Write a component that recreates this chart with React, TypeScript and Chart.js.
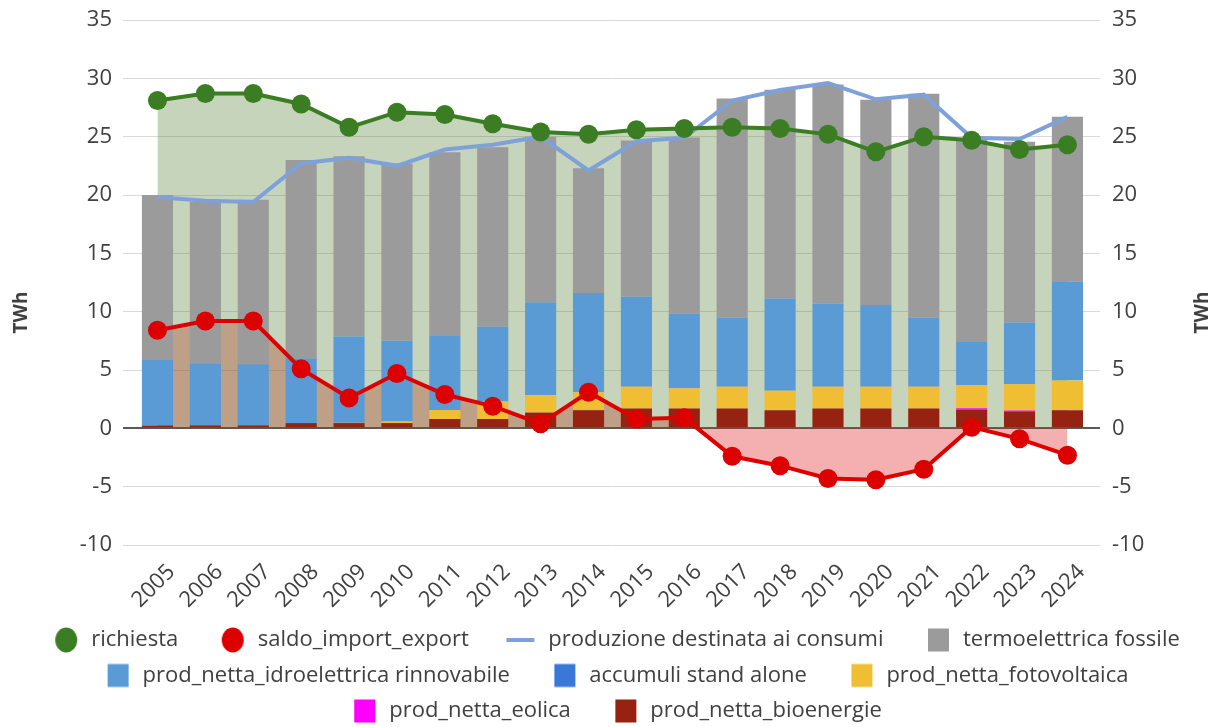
import React, { useEffect, useRef } from "react";
import { Chart, registerables } from "chart.js";

Chart.register(...registerables);

// ---- data (TWh) ----
const years = [2005, 2006, 2007, 2008, 2009, 2010, 2011, 2012, 2013, 2014, 2015, 2016, 2017, 2018, 2019, 2020, 2021, 2022, 2023, 2024];
const richiesta = [28.1, 28.7, 28.7, 27.8, 25.8, 27.1, 26.9, 26.1, 25.4, 25.2, 25.6, 25.7, 25.8, 25.7, 25.2, 23.7, 25.0, 24.7, 23.9, 24.3];
const saldoImportExport = [8.4, 9.2, 9.2, 5.1, 2.6, 4.7, 2.9, 1.9, 0.4, 3.1, 0.8, 0.9, -2.4, -3.2, -4.3, -4.4, -3.5, 0.1, -0.9, -2.3];
const produzioneConsumi = [19.8, 19.5, 19.4, 22.7, 23.2, 22.5, 23.9, 24.3, 25.0, 22.1, 24.6, 24.9, 28.1, 29.0, 29.6, 28.2, 28.6, 24.9, 24.8, 26.7];
const termoelettricaFossile = [14.15, 13.85, 14.1, 17.0, 15.45, 15.2, 15.7, 15.4, 14.2, 10.7, 13.4, 15.1, 18.8, 17.9, 18.8, 17.6, 19.2, 17.4, 15.5, 14.1];
const idroelettricaRinnovabile = [5.6, 5.3, 5.25, 5.55, 7.4, 6.9, 6.4, 6.4, 7.95, 8.5, 7.7, 6.4, 5.9, 7.9, 7.1, 7.0, 5.9, 3.7, 5.3, 8.5];
const accumuliStandAlone = [0, 0, 0, 0, 0, 0, 0, 0, 0, 0, 0, 0, 0, 0, 0, 0, 0, 0, 0, 0];
const fotovoltaica = [0, 0, 0, 0, 0.02, 0.15, 0.77, 1.5, 1.5, 1.55, 1.87, 1.73, 1.87, 1.68, 1.87, 1.87, 1.87, 1.98, 2.25, 2.53];
const eolica = [0, 0, 0, 0, 0, 0, 0, 0, 0, 0, 0, 0, 0, 0, 0, 0, 0, 0.12, 0.12, 0.02];
const bioenergie = [0.25, 0.25, 0.25, 0.45, 0.45, 0.45, 0.8, 0.8, 1.35, 1.55, 1.7, 1.7, 1.7, 1.55, 1.7, 1.7, 1.7, 1.6, 1.4, 1.55];

const yMin = -10;
const yMax = 35;
const yStep = 5;

const legendOrder = [
  "richiesta",
  "saldo_import_export",
  "produzione destinata ai consumi",
  "termoelettrica fossile",
  "prod_netta_idroelettrica rinnovabile",
  "accumuli stand alone",
  "prod_netta_fotovoltaica",
  "prod_netta_eolica",
  "prod_netta_bioenergie",
];

const FONT = "'Open Sans', 'DejaVu Sans', sans-serif";
const TEXT = "#404040";
const FS = 22;

const C = {
  green: "#3a7d22",
  greenFill: "rgba(84,130,53,0.34)",
  red: "#dd0000",
  redFill: "rgba(220,0,0,0.31)",
  blueLine: "#7fa1da",
  gray: "#9b9b9b",
  idro: "#5b9bd5",
  accumuli: "#3a78d8",
  foto: "#f0be32",
  eolica: "#ff00ff",
  bio: "#962312",
};

const pts = (arr: number[]) => years.map((x, i) => ({ x, y: arr[i] }));

// legend marker: a wide transparent canvas with the shape on its right side,
// so the empty left part acts as spacing between legend entries
const MW = 55; // marker canvas width (== pointStyleWidth)
function makeMarker(kind: "circle" | "square" | "line", color: string): HTMLCanvasElement {
  const c = document.createElement("canvas");
  c.width = MW;
  c.height = 26;
  const ctx = c.getContext("2d")!;
  const right = MW - 3;
  ctx.fillStyle = color;
  if (kind === "circle") {
    ctx.beginPath();
    ctx.ellipse(right - 11, 13, 11, 12.5, 0, 0, Math.PI * 2);
    ctx.fill();
  } else if (kind === "square") {
    ctx.fillRect(right - 21, 1.5, 21, 23);
  } else {
    ctx.fillRect(right - 28, 11, 28, 4);
  }
  return c;
}

export default function App() {
  const ref = useRef<HTMLCanvasElement | null>(null);

  useEffect(() => {
    if (!ref.current) return;
    const markers: Record<string, HTMLCanvasElement> = {
      "richiesta": makeMarker("circle", C.green),
      "saldo_import_export": makeMarker("circle", C.red),
      "produzione destinata ai consumi": makeMarker("line", C.blueLine),
      "termoelettrica fossile": makeMarker("square", C.gray),
      "prod_netta_idroelettrica rinnovabile": makeMarker("square", C.idro),
      "accumuli stand alone": makeMarker("square", C.accumuli),
      "prod_netta_fotovoltaica": makeMarker("square", C.foto),
      "prod_netta_eolica": makeMarker("square", C.eolica),
      "prod_netta_bioenergie": makeMarker("square", C.bio),
    };

    const barCommon = { type: "bar" as const, stack: "prod", barPercentage: 0.65, categoryPercentage: 1, borderWidth: 0 };

    const axisTitles = {
      id: "axisTitles",
      afterDraw(chart: any) {
        const { ctx, chartArea } = chart;
        const cy = (chartArea.top + chartArea.bottom) / 2 + 30;
        const draw = (x: number) => {
          ctx.save();
          ctx.font = `bold 19px ${FONT}`;
          ctx.fillStyle = TEXT;
          ctx.textAlign = "center";
          ctx.textBaseline = "middle";
          ctx.translate(x, cy);
          ctx.rotate(-Math.PI / 2);
          ctx.fillText("TWh", 0, 0);
          ctx.restore();
        };
        draw(22);
        draw(chart.width - 20);
      },
    };

    const chart = new Chart(ref.current, {
      data: {
        datasets: [
          {
            type: "line",
            label: "richiesta",
            data: pts(richiesta),
            borderColor: C.green,
            backgroundColor: C.greenFill,
            pointBackgroundColor: C.green,
            pointBorderColor: C.green,
            pointBorderWidth: 0,
            pointRadius: 9.5,
            borderWidth: 4,
            fill: "origin",
            tension: 0,
          },
          {
            type: "line",
            label: "saldo_import_export",
            data: pts(saldoImportExport),
            borderColor: C.red,
            backgroundColor: C.redFill,
            pointBackgroundColor: C.red,
            pointBorderColor: C.red,
            pointBorderWidth: 0,
            pointRadius: 9.5,
            borderWidth: 4,
            fill: "origin",
            tension: 0,
          },
          {
            type: "line",
            label: "produzione destinata ai consumi",
            data: pts(produzioneConsumi),
            borderColor: C.blueLine,
            backgroundColor: C.blueLine,
            pointRadius: 0,
            borderWidth: 4,
            fill: false,
            tension: 0,
          },
          { ...barCommon, label: "prod_netta_bioenergie", data: pts(bioenergie), backgroundColor: C.bio },
          { ...barCommon, label: "prod_netta_eolica", data: pts(eolica), backgroundColor: C.eolica },
          { ...barCommon, label: "prod_netta_fotovoltaica", data: pts(fotovoltaica), backgroundColor: C.foto },
          { ...barCommon, label: "accumuli stand alone", data: pts(accumuliStandAlone), backgroundColor: C.accumuli },
          { ...barCommon, label: "prod_netta_idroelettrica rinnovabile", data: pts(idroelettricaRinnovabile), backgroundColor: C.idro },
          { ...barCommon, label: "termoelettrica fossile", data: pts(termoelettricaFossile), backgroundColor: C.gray },
        ] as any,
      },
      options: {
        animation: false,
        responsive: true,
        maintainAspectRatio: false,
        layout: { padding: { top: 20, left: 0, right: 18, bottom: -5 } },
        plugins: {
          filler: { drawTime: "beforeDatasetsDraw" } as any,
          tooltip: { enabled: false },
          legend: {
            position: "bottom",
            labels: {
              usePointStyle: true,
              pointStyleWidth: MW,
              padding: 13.5,
              color: TEXT,
              font: { family: FONT, size: FS },
              sort: (a: any, b: any) => legendOrder.indexOf(a.text) - legendOrder.indexOf(b.text),
              generateLabels: (ch: any) => {
                const items = Chart.defaults.plugins.legend.labels.generateLabels(ch);
                return items.map((it: any) => ({
                  ...it,
                  pointStyle: markers[it.text],
                  lineWidth: 0,
                  strokeStyle: "transparent",
                }));
              },
            },
          },
        },
        scales: {
          x: {
            type: "linear",
            min: 2004.28,
            max: 2024.68,
            offset: false,
            grid: { display: false, drawTicks: false },
            border: { display: false },
            ticks: {
              stepSize: 1,
              includeBounds: false,
              autoSkip: false,
              maxRotation: 45,
              minRotation: 45,
              padding: 14,
              labelOffset: 14,
              color: TEXT,
              font: { family: FONT, size: FS },
              callback: (v: any) => String(v),
            },
            afterFit: (s: any) => {
              s.height = 70.5;
              s.paddingLeft = 0;
              s.paddingRight = 0;
            },
          },
          y: {
            type: "linear",
            position: "left",
            min: yMin,
            max: yMax,
            grid: {
              drawTicks: false,
              color: (ctx: any) => (ctx.tick && ctx.tick.value === 0 ? "#595959" : "#d9d9d9"),
              lineWidth: (ctx: any) => (ctx.tick && ctx.tick.value === 0 ? 2 : 1),
            },
            border: { display: false },
            ticks: { stepSize: yStep, padding: 11, color: TEXT, font: { family: FONT, size: FS } },
            afterFit: (s: any) => {
              s.width = 123;
              s.paddingTop = 0;
              s.paddingBottom = 0;
            },
          },
          y2: {
            type: "linear",
            position: "right",
            min: yMin,
            max: yMax,
            grid: { display: false, drawTicks: false },
            border: { display: false },
            ticks: { stepSize: yStep, padding: 12, color: TEXT, font: { family: FONT, size: FS } },
            afterFit: (s: any) => {
              s.width = 105;
              s.paddingTop = 0;
              s.paddingBottom = 0;
            },
          },
        },
      } as any,
      plugins: [axisTitles],
    });
    return () => chart.destroy();
  }, []);

  return (
    <div style={{ position: "fixed", left: 0, top: 0, width: 1223, height: 727, background: "#fff" }}>
      <canvas ref={ref} />
    </div>
  );
}
